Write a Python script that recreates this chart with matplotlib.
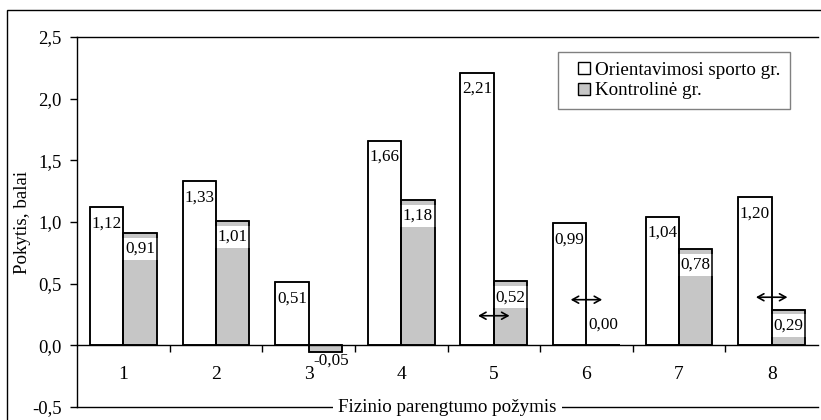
import matplotlib
matplotlib.use("Agg")
import matplotlib.pyplot as plt
from matplotlib.patches import Rectangle
from matplotlib.lines import Line2D
import numpy as np

plt.rcParams['font.family'] = ['Liberation Serif', 'DejaVu Serif']

categories = ["1", "2", "3", "4", "5", "6", "7", "8"]
orient_vals = [1.12, 1.33, 0.51, 1.66, 2.21, 0.99, 1.04, 1.20]
control_vals = [0.91, 1.01, -0.05, 1.18, 0.52, 0.00, 0.78, 0.29]
series_names = ["Orientavimosi sporto gr.", "Kontrolinė gr."]
arrow_cats = [5, 6, 8]
arrow_levels = [0.24, 0.37, 0.39]
yticks = [-0.5, 0.0, 0.5, 1.0, 1.5, 2.0, 2.5]
ylabel = "Pokytis, balai"
xlabel = "Fizinio parengtumo požymis"

W, H = 821, 420
fig = plt.figure(figsize=(W / 100, H / 100), dpi=100)
ax = fig.add_axes([77 / W, 1 - 407 / H, 741 / W, 370 / H])

# outer frame (cropped at right/bottom in reference)
fig.patches.append(Rectangle((7 / W, -0.2), 1.5, 1 - 10 / H + 0.2, fill=False,
                             edgecolor='black', linewidth=1.0,
                             transform=fig.transFigure, zorder=0))

x = np.arange(1, len(categories) + 1)
bw = 0.36
gray = '#c6c6c6'
lw = 1.1

ax.spines['bottom'].set_position(('data', 0))
ax.spines['right'].set_visible(False)
for s in ['left', 'top', 'bottom']:
    ax.spines[s].set_linewidth(1.0)

ax.bar(x - bw / 2, orient_vals, bw, color='white', edgecolor='black',
       linewidth=lw, zorder=2)
ax.bar(x + bw / 2, control_vals, bw, color=gray, edgecolor='black',
       linewidth=lw, zorder=2)
# redraw edges on top of label boxes
ax.bar(x - bw / 2, orient_vals, bw, facecolor='none', edgecolor='black',
       linewidth=lw, zorder=4)
ax.bar(x + bw / 2, control_vals, bw, facecolor='none', edgecolor='black',
       linewidth=lw, zorder=4)

def fmt(v):
    return f"{v:.2f}".replace('.', ',')

fs_lab = 12.3
for xi, v in zip(x - bw / 2, orient_vals):
    ax.annotate(fmt(v), xy=(xi, v), xytext=(0, -16), textcoords='offset pixels',
                ha='center', va='center', fontsize=fs_lab, zorder=3)
for xi, v in zip(x + bw / 2, control_vals):
    if v > 0:
        ax.annotate(fmt(v), xy=(xi, v), xytext=(0, -16), textcoords='offset pixels',
                    ha='center', va='center', fontsize=fs_lab, zorder=3,
                    bbox=dict(boxstyle='square,pad=0.18', facecolor='white',
                              edgecolor='none'))
    elif v < 0:
        ax.annotate(fmt(v), xy=(xi, v), xytext=(6, -9), textcoords='offset pixels',
                    ha='center', va='center', fontsize=fs_lab, zorder=3)
    else:
        ax.annotate(fmt(v), xy=(xi, v), xytext=(0, 21), textcoords='offset pixels',
                    ha='center', va='center', fontsize=fs_lab, zorder=3)

for c, lv in zip(arrow_cats, arrow_levels):
    ax.annotate('', xy=(c + 0.17, lv), xytext=(c - 0.17, lv),
                arrowprops=dict(arrowstyle='<->,head_length=0.45,head_width=0.25',
                                color='black', lw=1.2,
                                shrinkA=0, shrinkB=0, mutation_scale=10),
                zorder=5)

ax.set_xlim(0.5, len(categories) + 0.5)
ax.set_ylim(-0.5, 2.5)
ax.set_yticks(yticks)
ax.set_yticklabels([f"{t:.1f}".replace('.', ',') for t in yticks])
ax.tick_params(axis='y', direction='out', length=5, width=1, pad=6, labelsize=13.5)

ax.set_xticks(x)
ax.set_xticklabels(categories)
ax.tick_params(axis='x', which='major', length=0, pad=15, labelsize=14)
ax.set_xticks(x[:-1] + 0.5, minor=True)
ax.tick_params(axis='x', which='minor', direction='out', length=5, width=1)

ax.axhline(-0.5, color='black', lw=1.0, clip_on=False, zorder=1)

ax.set_ylabel(ylabel, fontsize=13.7)
ax.yaxis.set_label_coords(-0.062, 0.5)
ax.set_xlabel(xlabel, fontsize=13.7, va='center',
              bbox=dict(boxstyle='square,pad=0.25', facecolor='white', edgecolor='none'))
ax.xaxis.set_label_coords(0.5, 0.0)
ax.xaxis.label.set_zorder(6)

handles = [Line2D([], [], linestyle='none', marker='s', markersize=8.5,
                  markerfacecolor=fc, markeredgecolor='black', markeredgewidth=1.0)
           for fc in ['white', gray]]
leg = ax.legend(handles, series_names, loc='upper right',
                bbox_to_anchor=(0.962, 0.959), borderaxespad=0,
                fontsize=13.7, frameon=True, fancybox=False, framealpha=1,
                edgecolor='#808080', handlelength=1.8, handletextpad=-0.35,
                labelspacing=0.15, borderpad=0.5)
leg.get_frame().set_linewidth(1.0)

fig.savefig('out.png', dpi=100)
